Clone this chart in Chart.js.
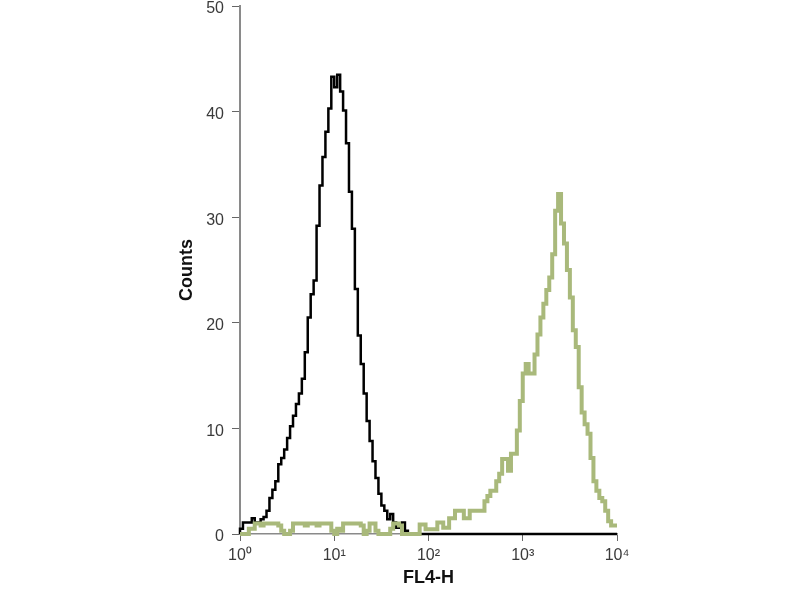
<!DOCTYPE html>
<html>
<head>
<meta charset="utf-8">
<script src="https://cdn.jsdelivr.net/npm/chart.js@4.4.1/dist/chart.umd.min.js"></script>
<style>
  html, body { margin: 0; padding: 0; background: #ffffff; }
  #wrap { width: 800px; height: 600px; }
</style>
</head>
<body>
<div id="wrap"><canvas id="histo"></canvas></div>
<script>
// Histogram channels: 32 channels per decade, 4 decades (10^0 .. 10^4)
const CHANNELS_PER_DECADE = 32;

// Isotype control (black)
const controlCounts = [
  0, 0.5, 1.1, 1.1, 1.1, 1.5, 1.1, 1.1, 1.4, 1.6,
  2.2, 3.4, 4.2, 5.0, 6.6, 7.2, 8.0, 9.1, 10.2, 11.2,
  12.3, 13.3, 14.7, 17.2, 20.5, 22.7, 24.0, 29.2, 33.0, 35.7,
  38.1, 40.3, 43.3, 42.3, 43.5, 41.9, 40.1, 37.0, 32.4, 28.9,
  23.2, 18.8, 16.1, 13.3, 10.7, 8.8, 6.9, 5.3, 3.8, 2.7,
  2.2, 1.4, 1.9, 1.1, 0.6, 0.6, 1.1, 0.3, 0, 0,
  0, 0, 0, 0, 0, 0, 0, 0, 0, 0,
  0, 0, 0, 0, 0, 0, 0, 0, 0, 0,
  0, 0, 0, 0, 0, 0, 0, 0, 0, 0,
  0, 0, 0, 0, 0, 0, 0, 0, 0, 0,
  0, 0, 0, 0, 0, 0, 0, 0, 0, 0,
  0, 0, 0, 0, 0, 0, 0, 0, 0, 0,
  0, 0, 0, 0, 0, 0, 0, 0
];

// Stained sample (green)
const stainedCounts = [
  0, 0, 0, 0, 0.5, 0.5, 1.0, 1.0, 0.8, 1.0,
  1.0, 1.0, 1.0, 1.0, 0.8, 0.3, 0, 0, 0.3, 1.0,
  1.0, 1.0, 1.0, 0.8, 1.0, 1.0, 1.0, 0.8, 1.0, 1.0,
  1.0, 1.0, 0.3, 0, 0.5, 0.3, 1.0, 1.0, 1.0, 1.0,
  1.0, 1.0, 0.8, 0, 0.3, 1.0, 1.0, 0.3, 0, 0,
  0, 0, 0.5, 1.0, 1.0, 0.8, 0, 0, 0, 0,
  0, 0, 0.9, 0.9, 0.45, 0.45, 0.45, 0.45, 1.1, 1.1,
  0.6, 0.6, 1.5, 1.5, 2.2, 2.2, 2.2, 1.5, 1.5, 2.2,
  2.2, 2.2, 2.2, 2.2, 3.1, 3.6, 4.1, 4.1, 5.0, 5.7,
  7.1, 7.1, 6.0, 7.6, 7.6, 9.8, 12.6, 15.2, 16.1, 15.2,
  15.2, 17.0, 18.9, 20.5, 21.8, 23.1, 24.3, 26.5, 30.6, 32.2,
  29.4, 27.5, 25.0, 22.4, 19.3, 17.7, 13.9, 11.5, 10.4, 9.5,
  7.2, 5.0, 4.1, 3.4, 3.1, 2.2, 1.2, 0.8
];

const xTickValues = [1, 10, 100, 1000, 10000];
const xTickLabels = ['10\u2070', '10\u00b9', '10\u00b2', '10\u00b3', '10\u2074'];
const yTickValues = [0, 10, 20, 30, 40, 50];

// channel index -> fluorescence value at the channel's left edge
function channelPoints(counts) {
  const pts = counts.map((c, i) => ({ x: Math.pow(10, i / CHANNELS_PER_DECADE), y: c }));
  pts.push({ x: Math.pow(10, counts.length / CHANNELS_PER_DECADE), y: counts[counts.length - 1] });
  return pts;
}

const tickFont = { family: "'Liberation Sans Narrow', 'Liberation Sans', Arial, sans-serif", size: 16 };
const titleFont = { family: "'Liberation Sans', Arial, sans-serif", size: 18, weight: 'bold' };

new Chart(document.getElementById('histo').getContext('2d'), {
  type: 'line',
  data: {
    datasets: [
      {
        label: 'Stained',
        data: channelPoints(stainedCounts),
        borderColor: '#a9b97b',
        borderWidth: 4,
        stepped: 'after',
        pointRadius: 0,
        fill: false,
        clip: false,
        order: 0
      },
      {
        label: 'Control',
        data: channelPoints(controlCounts),
        borderColor: '#000000',
        borderWidth: 2.5,
        stepped: 'after',
        pointRadius: 0,
        fill: false,
        clip: false,
        order: 1
      }
    ]
  },
  options: {
    responsive: true,
    maintainAspectRatio: false,
    animation: false,
    layout: { padding: { left: 172, right: 183, top: 6, bottom: 8 } },
    plugins: {
      legend: { display: false },
      tooltip: { enabled: false }
    },
    scales: {
      x: {
        type: 'logarithmic',
        min: 1,
        max: 10000,
        afterBuildTicks: axis => { axis.ticks = xTickValues.map(v => ({ value: v })); },
        afterFit: axis => { axis.height = 58; },
        border: { display: true, color: '#8a8a8a', width: 1.5 },
        grid: { drawOnChartArea: false, drawTicks: true, tickLength: 7, color: '#666666' },
        ticks: {
          color: '#3a3a3a',
          font: tickFont,
          padding: 5,
          maxRotation: 0,
          autoSkip: false,
          callback: (v) => {
            const idx = xTickValues.indexOf(v);
            return idx >= 0 ? xTickLabels[idx] : '';
          }
        },
        title: {
          display: true,
          text: 'FL4-H',
          color: '#111111',
          font: titleFont,
          padding: 3
        }
      },
      y: {
        min: 0,
        max: 50,
        afterBuildTicks: axis => { axis.ticks = yTickValues.map(v => ({ value: v })); },
        afterFit: axis => {
          axis.width = 68;
          axis.paddingTop = 0;
          axis.paddingBottom = 0;
        },
        border: { display: true, color: '#8a8a8a', width: 2 },
        grid: { drawOnChartArea: false, drawTicks: true, tickLength: 8, color: '#666666' },
        ticks: {
          color: '#3a3a3a',
          font: tickFont,
          padding: 8,
          labelOffset: 3
        },
        title: {
          display: true,
          text: 'Counts',
          color: '#111111',
          font: titleFont,
          padding: 4
        }
      }
    }
  }
});
</script>
</body>
</html>
